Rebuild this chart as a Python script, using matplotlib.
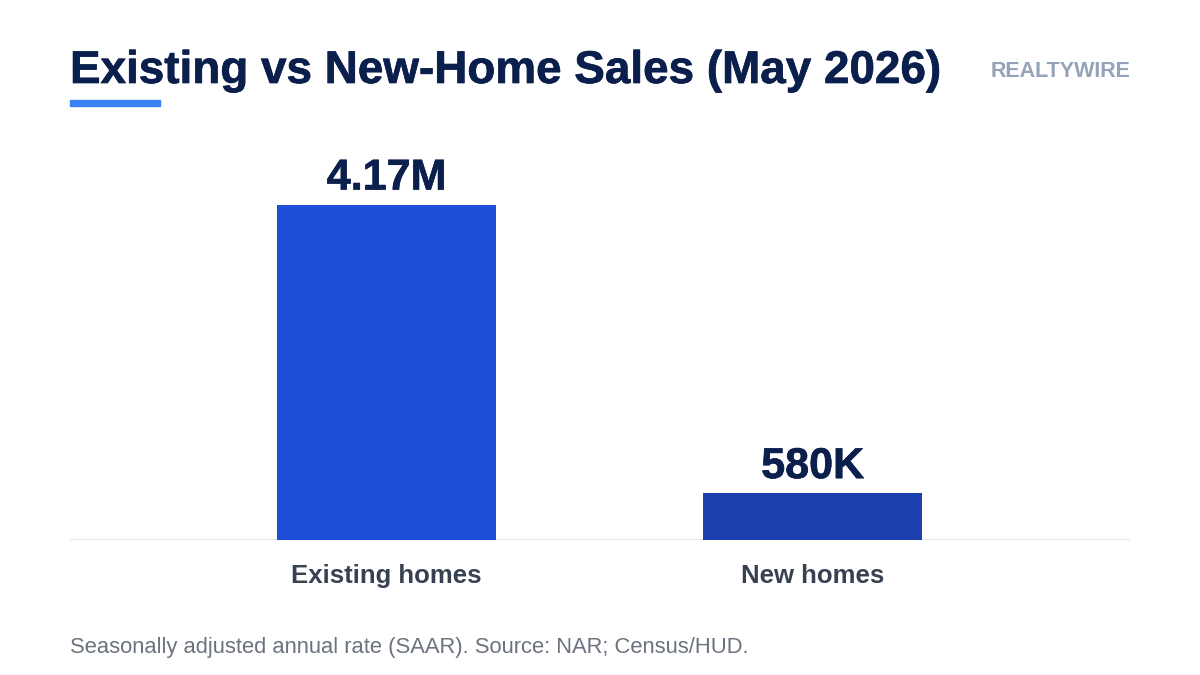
import matplotlib.pyplot as plt
import matplotlib.patheffects as pe

plt.rcParams["font.family"] = ["Liberation Sans", "DejaVu Sans"]

# Sales, seasonally adjusted annual rate (units)
categories = ["Existing homes", "New homes"]
sales = [4_170_000, 580_000]
bar_colors = ["#1d4ed8", "#1e40af"]

title = "Existing vs New-Home Sales (May 2026)"
brand = "REALTYWIRE"
footnote = "Seasonally adjusted annual rate (SAAR). Source: NAR; Census/HUD."

W, H = 1200, 675


def fx(px):
    return px / W


def fy(py):
    return 1 - py / H


def fmt(v):
    # millions get two decimals, thousands are rounded
    if v >= 1_000_000:
        return f"{v / 1_000_000:.2f}M"
    return f"{v / 1_000:.0f}K"


def heavy(color, w=0.5):
    # a thin outline in the text colour makes the bold look a bit heavier
    return [pe.withStroke(linewidth=w, foreground=color)]


fig = plt.figure(figsize=(12, 6.75), dpi=100)
fig.patch.set_facecolor("white")

# axes span x 70..1130, y 130..540 (pixels)
ax = fig.add_axes([fx(70), fy(540), fx(1060), (540 - 130) / H])
x = range(len(categories))
vals_m = [v / 1_000_000 for v in sales]
ax.bar(x, vals_m, width=0.514, color=bar_colors, zorder=2)
ax.axhline(0, color="#e2e5ea", lw=2, zorder=1)

ax.set_xlim(-0.743, 1.745)
ax.set_ylim(0, 5.1)
for s in ax.spines.values():
    s.set_visible(False)
ax.set_xticks([])
ax.set_yticks([])

navy = "#0b1f4d"

# value labels above each bar
for i, (v, vm) in enumerate(zip(sales, vals_m)):
    ax.annotate(fmt(v), (i, vm), xytext=(0, 11), textcoords="offset points",
                ha="center", va="baseline", fontsize=31, fontweight="bold",
                color=navy, path_effects=heavy(navy))

# category labels under the baseline
for i, cat in enumerate(categories):
    ax.text(i, -(583 - 540) / 410, cat, transform=ax.get_xaxis_transform(),
            ha="center", va="baseline", fontsize=18.5, fontweight="bold",
            color="#374151")

# header
fig.text(fx(70), fy(83), title, ha="left", va="baseline", fontsize=33,
         fontweight="bold", color=navy, path_effects=heavy(navy))
fig.add_artist(plt.Rectangle((fx(70), fy(106)), fx(90), 6 / H,
                             color="#3b82f6", transform=fig.transFigure))
fig.text(fx(1130), fy(77), brand, ha="right", va="baseline", fontsize=15.5,
         fontweight="bold", color="#94a3b8")

# footer
fig.text(fx(70), fy(653), footnote, ha="left", va="baseline", fontsize=15.8,
         color="#6b7280")

fig.savefig("out.png", dpi=100)
